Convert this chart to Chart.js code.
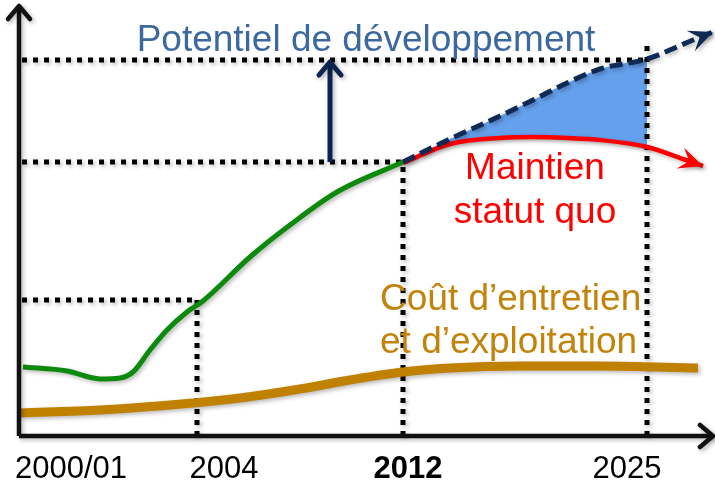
<!DOCTYPE html>
<html>
<head>
<meta charset="utf-8">
<script src="https://cdn.jsdelivr.net/npm/chart.js@4"></script>
<style>
  html, body { margin: 0; padding: 0; background: #fff; }
  #wrap { width: 715px; height: 484px; }
</style>
</head>
<body>
<div id="wrap"><canvas id="chart"></canvas></div>
<script>
// schematic chart: x = position along the timeline, y = level (arbitrary units)

// ---- timeline labels ----
const tickLabels = ["2000/01", "2004", "2012", "2025"];

// ---- historic trend (green) ----
const histX = [4, 48, 81, 101, 114, 131, 148, 168, 184, 231, 271, 318, 384];
const histY = [69, 65, 57, 58, 64, 86, 106, 124, 135, 179, 211, 244, 274];

// ---- projections after 2012 (shared x up to 2025) ----
const projX = [384, 431, 481, 514, 548, 581, 628];
const potentialY = [274, 297, 320, 336, 353, 367, 377];   // dashed, potentiel
const statusQuoY = [273, 292, 298, 299, 298, 296, 289];   // red, statut quo
const potentialTailX = [674, 694];
const potentialTailY = [396, 404];
const statusQuoTailX = [664, 684];
const statusQuoTailY = [277, 270];

// ---- maintenance / operating cost (orange) ----
const costX = [1, 81, 174, 221, 281, 331, 384, 431, 501, 581, 679];
const costY = [23, 26, 33, 38, 47, 56, 64, 68, 70, 70, 68];

// ---- reference levels / years ----
const level2004 = 136, level2012 = 274, level2025 = 376;
const year2004 = 178, year2012 = 384, year2025 = 628;
const axisTopY = 430, axisEndX = 694;
const gapArrowX = 311;

const pts = (xs, ys) => xs.map((x, i) => ({ x: x, y: ys[i] }));

const DOT = [5, 6];
const dotted = (data) => ({
  data: data, borderColor: "#000", borderWidth: 5, borderDash: DOT,
  borderCapStyle: "butt", tension: 0, fill: false, order: 8
});

// arrow heads at the end of datasets flagged with arrowHead
const arrowPlugin = {
  id: "arrows",
  afterDatasetsDraw(chart) {
    const ctx = chart.ctx;
    chart.data.datasets.forEach((ds, i) => {
      if (!ds.arrowHead) return;
      const meta = chart.getDatasetMeta(i);
      const n = meta.data.length;
      const tip = meta.data[n - 1], from = meta.data[n - 2];
      const a = Math.atan2(tip.y - from.y, tip.x - from.x);
      const h = ds.arrowHead;
      const dx = Math.cos(a), dy = Math.sin(a);
      const px = -dy, py = dx;
      const bx = tip.x - dx * h.len, by = tip.y - dy * h.len;
      ctx.save();
      ctx.shadowColor = "rgba(0,0,0,0.3)";
      ctx.shadowBlur = 4;
      ctx.shadowOffsetX = 2;
      ctx.shadowOffsetY = 2;
      if (h.style === "open") {
        ctx.strokeStyle = h.color;
        ctx.lineWidth = h.width;
        ctx.lineCap = "round";
        ctx.lineJoin = "round";
        ctx.beginPath();
        ctx.moveTo(bx + px * h.half, by + py * h.half);
        ctx.lineTo(tip.x, tip.y);
        ctx.lineTo(bx - px * h.half, by - py * h.half);
        ctx.stroke();
      } else {
        ctx.fillStyle = h.color;
        ctx.beginPath();
        ctx.moveTo(tip.x, tip.y);
        ctx.lineTo(bx + px * h.half, by + py * h.half);
        ctx.lineTo(tip.x - dx * h.len * 0.6, tip.y - dy * h.len * 0.6);
        ctx.lineTo(bx - px * h.half, by - py * h.half);
        ctx.closePath();
        ctx.fill();
      }
      ctx.restore();
    });
  }
};

// soft drop shadow under all marks
const shadowPlugin = {
  id: "shadow",
  beforeDatasetsDraw(chart) {
    const ctx = chart.ctx;
    ctx.save();
    ctx.shadowColor = "rgba(0,0,0,0.28)";
    ctx.shadowBlur = 4;
    ctx.shadowOffsetX = 2;
    ctx.shadowOffsetY = 2;
  },
  afterDatasetsDraw(chart) {
    chart.ctx.restore();
  }
};

// texts: captions + timeline labels
const textPlugin = {
  id: "texts",
  afterDraw(chart) {
    const ctx = chart.ctx;
    const xs = chart.scales.x;
    const base = chart.chartArea.bottom;
    ctx.save();
    ctx.textBaseline = "alphabetic";

    ctx.font = "37px 'Liberation Sans', Arial, sans-serif";
    ctx.textAlign = "center";
    ctx.fillStyle = "#3b68a0";
    ctx.fillText("Potentiel de développement", 366, 51);

    ctx.fillStyle = "#ff0000";
    ctx.fillText("Maintien", 535, 179);
    ctx.fillText("statut quo", 535, 223);

    ctx.textAlign = "left";
    ctx.fillStyle = "#c3820a";
    ctx.fillText("Coût d\u2019entretien", 380, 310);
    ctx.fillText("et d\u2019exploitation", 380, 353);

    const tickAt = [52, 205, 389, 608];
    ctx.textAlign = "center";
    ctx.fillStyle = "#000";
    tickLabels.forEach((t, i) => {
      ctx.font = (t === "2012" ? "bold " : "") + "31px 'Liberation Sans', Arial, sans-serif";
      ctx.fillText(t, xs.getPixelForValue(tickAt[i]), base + 42);
    });
    ctx.restore();
  }
};

const ctx = document.getElementById("chart").getContext("2d");

new Chart(ctx, {
  type: "line",
  data: {
    datasets: [
      // blue area between the two projections
      {
        data: pts(projX, potentialY), borderWidth: 0, borderColor: "rgba(0,0,0,0)",
        backgroundColor: "#64a0ec", fill: "+1", cubicInterpolationMode: "monotone", order: 10
      },
      {
        data: pts(projX, statusQuoY), borderWidth: 0, borderColor: "rgba(0,0,0,0)",
        fill: false, cubicInterpolationMode: "monotone", order: 10
      },
      // dotted guides
      dotted([{ x: 3, y: level2025 }, { x: year2025, y: level2025 }]),
      dotted([{ x: 3, y: level2012 }, { x: year2012, y: level2012 }]),
      dotted([{ x: 3, y: level2004 }, { x: year2004, y: level2004 }]),
      dotted([{ x: year2004, y: 0 }, { x: year2004, y: level2004 }]),
      dotted([{ x: year2012, y: 0 }, { x: year2012, y: level2012 }]),
      dotted([{ x: year2025, y: 0 }, { x: year2025, y: 390 }]),
      // orange cost
      {
        data: pts(costX, costY), borderColor: "#c08000", borderWidth: 9,
        cubicInterpolationMode: "monotone", fill: false, order: 6
      },
      // green history
      {
        data: pts(histX, histY), borderColor: "#0b8a0b", borderWidth: 5,
        cubicInterpolationMode: "monotone", fill: false, order: 5
      },
      // red status quo
      {
        data: pts(projX.concat(statusQuoTailX), statusQuoY.concat(statusQuoTailY)),
        borderColor: "#ff0000", borderWidth: 4.5, cubicInterpolationMode: "monotone",
        fill: false, order: 5,
        arrowHead: { style: "stealth", color: "#ff0000", len: 24, half: 11 }
      },
      // dashed potential
      {
        data: pts(projX.concat(potentialTailX), potentialY.concat(potentialTailY)),
        borderColor: "#0f2b55", borderWidth: 5, borderDash: [13, 6],
        cubicInterpolationMode: "monotone", fill: false, order: 4,
        arrowHead: { style: "stealth", color: "#0f2b55", len: 24, half: 11 }
      },
      // gap arrow
      {
        data: [{ x: gapArrowX, y: level2012 }, { x: gapArrowX, y: level2025 - 2 }],
        borderColor: "#0b2550", borderWidth: 5, tension: 0, fill: false, order: 3,
        arrowHead: { style: "open", color: "#0b2550", width: 5, len: 13, half: 11 }
      },
      // axes
      {
        data: [{ x: 0, y: 0 }, { x: 0, y: axisTopY }], borderColor: "#111", borderWidth: 4.5,
        tension: 0, fill: false, order: 1,
        arrowHead: { style: "open", color: "#111", width: 4.5, len: 13, half: 11 }
      },
      {
        data: [{ x: 0, y: 0 }, { x: axisEndX, y: 0 }], borderColor: "#111", borderWidth: 4.5,
        tension: 0, fill: false, order: 1,
        arrowHead: { style: "open", color: "#111", width: 4.5, len: 13, half: 11 }
      }
    ]
  },
  options: {
    responsive: true,
    maintainAspectRatio: false,
    animation: false,
    clip: false,
    layout: { padding: { left: 19, right: 0, top: 0, bottom: 48 } },
    elements: { point: { radius: 0, hoverRadius: 0 } },
    scales: {
      x: { type: "linear", min: 0, max: 696, display: false },
      y: { type: "linear", min: 0, max: 436, display: false }
    },
    plugins: {
      legend: { display: false },
      tooltip: { enabled: false }
    }
  },
  plugins: [shadowPlugin, arrowPlugin, textPlugin]
});
</script>
</body>
</html>
